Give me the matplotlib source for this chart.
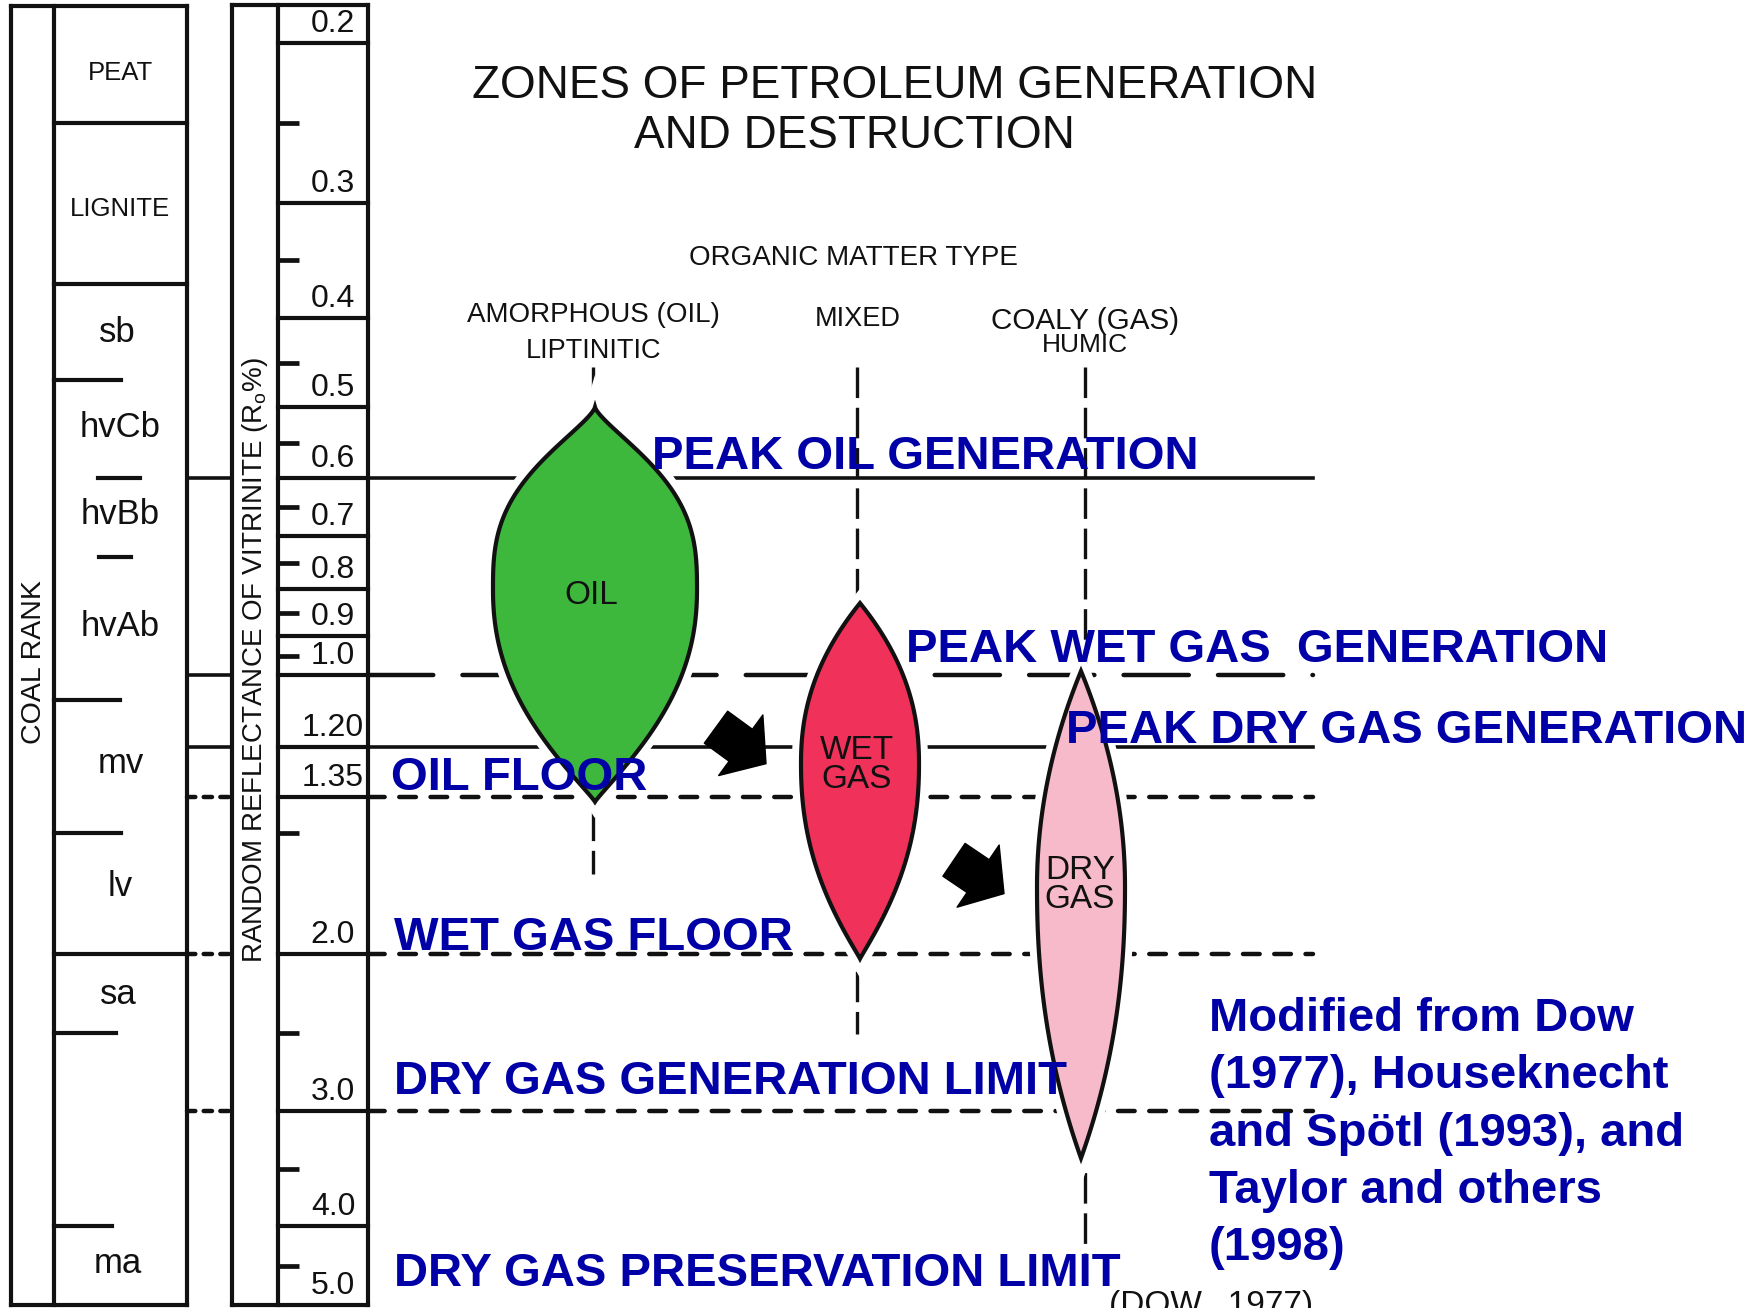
import numpy as np
import matplotlib
matplotlib.use('Agg')
import matplotlib.pyplot as plt
from matplotlib.patches import Polygon, FancyArrowPatch
from matplotlib.transforms import blended_transform_factory
import matplotlib.patheffects as pe

plt.rcParams['font.family'] = ['Liberation Sans', 'DejaVu Sans']
plt.rcParams['lines.scale_dashes'] = False
plt.rcParams['mathtext.fontset'] = 'custom'
plt.rcParams['mathtext.rm'] = 'Liberation Sans'

# ------------------------------------------------------------------ data
RO_TICKS = [0.2, 0.3, 0.4, 0.5, 0.6, 0.7, 0.8, 0.9, 1.0, 1.2, 1.35, 2.0, 3.0, 4.0, 5.0]
RO_TICK_LABELS = ['0.2', '0.3', '0.4', '0.5', '0.6', '0.7', '0.8', '0.9', '1.0',
                  '1.20', '1.35', '2.0', '3.0', '4.0', '5.0']
RO_MINOR = [0.25, 0.35, 0.45, 0.55, 0.65, 0.75, 0.85, 0.95, 1.5, 2.5, 3.5, 4.5]

COAL_RANKS = ['PEAT', 'LIGNITE', 'sb', 'hvCb', 'hvBb', 'hvAb', 'mv', 'lv', 'sa', 'ma']
COAL_RANK_RO = [0.2175, 0.303, 0.416, 0.529, 0.663, 0.88, 1.25, 1.72, 2.26, 4.48]
COAL_BOUNDS_RO = [0.25, 0.37, 0.47, 0.6, 0.74, 1.07, 1.5, 2.0, 2.5, 4.0]

ZONE_LINE_RO = [0.6, 1.0, 1.2, 1.35, 2.0, 3.0]
ZONE_LABELS = ['PEAK OIL GENERATION', 'PEAK WET GAS  GENERATION', 'PEAK DRY GAS GENERATION',
               'OIL FLOOR', 'WET GAS FLOOR', 'DRY GAS GENERATION LIMIT',
               'DRY GAS PRESERVATION LIMIT']

OM_TYPES = ['AMORPHOUS (OIL)', 'MIXED', 'COALY (GAS)']
OM_SUBTYPES = ['LIPTINITIC', '', 'HUMIC']
TYPE_LINE_TOP_RO = 0.455
TYPE_LINE_BOTTOM_RO = [1.67, 2.51, 4.73]

PRODUCTS = ['OIL', 'WET\nGAS', 'DRY\nGAS']
PROD_TOP_RO = [0.5, 0.83, 0.99]
PROD_PEAK_RO = [0.8, 1.25, 1.72]
PROD_BOTTOM_RO = [1.37, 2.03, 3.41]

TITLE = ['ZONES OF PETROLEUM GENERATION', 'AND DESTRUCTION']
SOURCE = ['Modified from Dow', '(1977), Houseknecht', 'and Spötl (1993), and',
          'Taylor and others', '(1998)']

# ------------------------------------------------------------------ layout
W, H = 1759, 1308
RO_KNOTS = [0.17, 0.2, 0.3, 0.4, 0.5, 0.6, 0.7, 0.8, 0.9, 1.0, 1.2, 1.35, 2.0, 3.0, 4.0, 5.0, 5.6]
POS_KNOTS = [-5, 43, 203, 318, 407, 478, 536, 589, 636, 675, 747, 797, 954, 1111, 1226, 1305, 1345]

fwd = lambda r: np.interp(r, RO_KNOTS, POS_KNOTS)
inv = lambda p: np.interp(p, POS_KNOTS, RO_KNOTS)

fig = plt.figure(figsize=(W / 100, H / 100), dpi=100)
fig.patch.set_facecolor('white')
ax = fig.add_axes([0, 0, 1, 1])
ax.set_yscale('function', functions=(fwd, inv))
ax.set_xlim(0, W)
ax.set_ylim(inv(H), inv(0))
ax.axis('off')
bt = blended_transform_factory(ax.transData, ax.transAxes)

BLUE = '#0000A6'
K = '#111111'
LW_FRAME = 3.0
LW_LINE = 2.6
LW_DASH = 3.2


def yf(p):
    return 1 - p / H


def put(x, y, s, size, color=K, weight='normal', ha='center', caps=True, **kw):
    em = size * 100 / 72
    if caps:
        fig.text(x / W, 1 - (y + 0.358 * em) / H, s, fontsize=size, color=color,
                 fontweight=weight, ha=ha, va='baseline', **kw)
    else:
        fig.text(x / W, 1 - y / H, s, fontsize=size, color=color,
                 fontweight=weight, ha=ha, va='center', **kw)


# ---- column frames
for xs, top in (([11, 54, 187], 6), ([232, 278, 368], 5)):
    for x in xs:
        ax.plot([x, x], [yf(1305), yf(top)], color=K, lw=LW_FRAME, transform=bt,
                solid_capstyle='projecting')
    for p in (top, 1305):
        ax.plot([xs[0], xs[-1]], [yf(p), yf(p)], color=K, lw=LW_FRAME, transform=bt,
                solid_capstyle='projecting')

# ---- coal rank boundaries
coal_spans = [(54, 187), (54, 187), (54, 121), (98, 140), (99, 131),
              (54, 120), (54, 121), (54, 187), (54, 116), (54, 112)]
for ro, (x0, x1) in zip(COAL_BOUNDS_RO, coal_spans):
    ax.plot([x0, x1], [ro, ro], color=K, lw=LW_FRAME)

coal_x = [120, 120, 117, 120, 120, 120, 121, 120, 118, 118]
for name, x, ro in zip(COAL_RANKS, coal_x, COAL_RANK_RO):
    y = float(fwd(ro))
    if name in ('PEAT', 'LIGNITE'):
        put(x, y, name, 18.5)
    else:
        put(x, y, name, 25, caps=False)

put(34, 662, 'COAL RANK', 20.5, caps=False, rotation=90)
put(255, 660, 'RANDOM REFLECTANCE OF VITRINITE (R$_{\\mathregular{o}}$%)', 20, caps=False,
    rotation=90)

# ---- vitrinite scale
for ro, lab in zip(RO_TICKS, RO_TICK_LABELS):
    if ro < 5.0:
        ax.plot([278, 368], [ro, ro], color=K, lw=LW_LINE + 0.4)
    ax.annotate(lab, (333, ro), xytext=(0, 7.8), textcoords='offset points',
                ha='center', va='baseline', fontsize=23, color=K)
for ro in RO_MINOR:
    ax.plot([278, 299], [ro, ro], color=K, lw=LW_LINE + 0.8, solid_capstyle='butt')

# ---- zone lines
short_dash = (0, (6, 6))
conn_style = ['-', '-', '-', short_dash, short_dash, short_dash]
main_style = ['-', (0, (47, 21)), '-', (0, (12, 10.5)), (0, (12, 10.5)), (0, (12, 10.5))]
for ro, cs, ms in zip(ZONE_LINE_RO, conn_style, main_style):
    lwc = LW_LINE if cs == '-' else LW_DASH
    lwm = LW_LINE if ms == '-' else LW_DASH
    ax.plot([187, 232], [ro, ro], color=K, lw=lwc, ls=cs, dash_capstyle='round')
    ax.plot([368, 1313], [ro, ro], color=K, lw=lwm, ls=ms, zorder=2, dash_capstyle='round')

# ---- organic matter type columns
type_x = [593, 857, 1085]
for x, rb in zip(type_x, TYPE_LINE_BOTTOM_RO):
    ax.plot([x, x], [TYPE_LINE_TOP_RO, rb], color=K, lw=2.4, ls=(0, (22, 7)), zorder=2)

# ---- generation envelopes
prod_cx = [595, 860, 1081]
prod_w = [102, 59, 44]
prod_shape = [(2.8, 1.4, 2.2, 1.1), (2.2, 1.0, 2.2, 1.05), (2.0, 1.0, 2.2, 1.0)]
prod_fc = ['#3DB83D', '#F0325A', '#F6BACB']
for cx, hw, shp, fc, rt, rp, rb in zip(prod_cx, prod_w, prod_shape, prod_fc,
                                       PROD_TOP_RO, PROD_PEAK_RO, PROD_BOTTOM_RO):
    p0, pm, p1 = fwd(rt), fwd(rp), fwd(rb)
    pos = np.linspace(p0, p1, 400)
    up = pos < pm
    u = np.where(up, (pm - pos) / (pm - p0), (pos - pm) / (p1 - pm))
    u = np.clip(u, 0, 1)
    mt, nt, mb, nb = shp
    w = np.where(up, (1 - u ** mt) ** nt, (1 - u ** mb) ** nb) * hw
    ro = inv(pos)
    xs = np.concatenate([cx - w, (cx + w)[::-1]])
    ys = np.concatenate([ro, ro[::-1]])
    poly = Polygon(np.column_stack([xs, ys]), closed=True, fc=fc, ec=K, lw=3.0,
                   joinstyle='miter', zorder=3,
                   path_effects=[pe.Stroke(linewidth=13, foreground='white'), pe.Normal()])
    ax.add_patch(poly)

prod_lab_xy = [(591, 596), (857, 765), (1080, 885)]
for s, (x, y) in zip(PRODUCTS, prod_lab_xy):
    fig.text(x / W, 1 - y / H, s, fontsize=24, color=K, ha='center', va='center',
             linespacing=0.95, zorder=5)

# ---- arrows
for (xa, ra), (xb, rb) in [((716, 1.145), (766, 1.25)), ((954, 1.61), (1004, 1.75))]:
    ax.add_patch(FancyArrowPatch((xa, ra), (xb, rb),
                                 arrowstyle='simple,head_width=1.8,head_length=0.75,tail_width=0.95',
                                 mutation_scale=30, color='black', shrinkA=0, shrinkB=0,
                                 zorder=4))

# ---- titles
put(895, 82, TITLE[0], 33)
put(854, 132, TITLE[1], 33)
put(853, 255, 'ORGANIC MATTER TYPE', 20)
put(593, 312, OM_TYPES[0], 20)
put(593, 348, OM_SUBTYPES[0], 19.5)
put(858, 316, OM_TYPES[1], 19.5)
put(1085, 318, OM_TYPES[2], 21.3)
put(1085, 343, OM_SUBTYPES[2], 19)

# ---- zone labels
zone_xy = [(652, 452), (906, 645), (1066, 726), (391, 773), (394, 933), (394, 1077), (394, 1269)]
for s, (x, y) in zip(ZONE_LABELS, zone_xy):
    put(x, y, s, 34, color=BLUE, weight='bold', ha='left', zorder=6)

for i, s in enumerate(SOURCE):
    put(1209, 1014 + i * 57.3, s, 34, color=BLUE, weight='bold', ha='left', zorder=6)

fig.text(1211 / W, 1 - 1290 / H, '(DOW,  1977)', fontsize=24, color=K, ha='center', va='top')

fig.savefig('out.png', dpi=100, facecolor='white')
